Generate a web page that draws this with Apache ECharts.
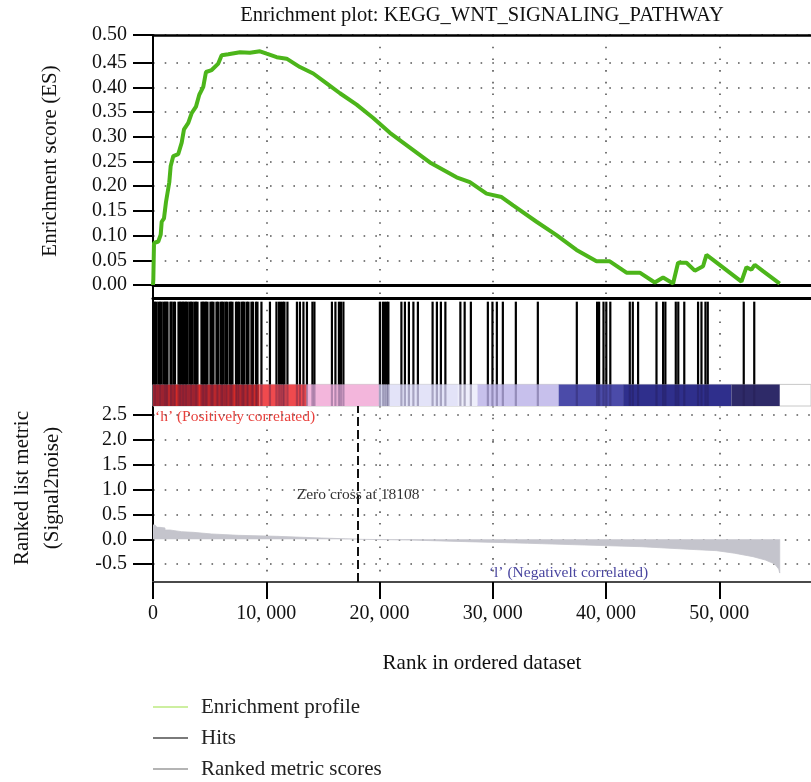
<!DOCTYPE html>
<html>
<head>
<meta charset="utf-8">
<script src="https://cdn.jsdelivr.net/npm/echarts@6.0.0/dist/echarts.min.js"></script>
<style>
  html, body { margin: 0; padding: 0; background: #ffffff; }
  #chart { width: 811px; height: 782px; }
</style>
</head>
<body>
<div id="chart"></div>
<script>
// ---- data -------------------------------------------------------------
const xMax = 58100;
const xTicks = [0, 10000, 20000, 30000, 40000, 50000];

// running enrichment score along the ranked list
const esRank = [0, 30, 88, 468, 680, 768, 971, 1147, 1439, 1562, 1792, 2233, 2533, 2736, 3116,
  3416, 3795, 4086, 4439, 4678, 5181, 5763, 6063, 6646, 7679, 8561, 9444, 10035, 10918, 11800,
  12974, 14148, 15331, 16505, 17979, 19444, 20918, 22680, 24448, 26804, 27978, 29452, 30776,
  31800, 33865, 35630, 37395, 39160, 40335, 41809, 42982, 44306, 45038, 45922, 46363, 47105,
  47837, 48568, 48870, 49454, 51958, 52399, 52841, 53133, 53865, 55339];
const esValue = [0, 0.012, 0.085, 0.088, 0.102, 0.128, 0.135, 0.168, 0.208, 0.241, 0.261, 0.265,
  0.288, 0.315, 0.328, 0.348, 0.361, 0.385, 0.401, 0.431, 0.435, 0.448, 0.465, 0.467, 0.471,
  0.470, 0.473, 0.468, 0.461, 0.458, 0.441, 0.428, 0.408, 0.388, 0.365, 0.338, 0.308, 0.278,
  0.248, 0.218, 0.208, 0.185, 0.178, 0.161, 0.128, 0.101, 0.071, 0.048, 0.048, 0.025, 0.025,
  0.005, 0.015, 0.003, 0.045, 0.045, 0.029, 0.038, 0.061, 0.051, 0.007, 0.036, 0.031, 0.041,
  0.028, 0.003];
const esTicks = [0, 0.05, 0.10, 0.15, 0.20, 0.25, 0.30, 0.35, 0.40, 0.45];
const esTop = 0.5059;
const esBottom = -0.0263;

// ranks of the gene-set members (hits)
const hitRanks = [44, 177, 309, 485, 618, 750, 927, 1059, 1192, 1280, 1545, 1633, 1809, 1942,
  2251, 2383, 2515, 2648, 2780, 2913, 3045, 3221, 3354, 3486, 3663, 3795, 3928, 4281, 4413,
  4545, 4678, 4810, 5075, 5207, 5340, 5605, 5737, 5958, 6090, 6222, 6399, 6531, 6752, 6884,
  7017, 7326, 7458, 7590, 7811, 7943, 8076, 8296, 8429, 8694, 8826, 9091, 9223, 9576,
  10326, 10900, 11121, 11297, 11473, 11606, 11871, 12709, 12974, 13283, 13592, 14077, 14254,
  15799, 16107, 16416, 16593, 16813, 20035, 20300, 20476, 20653, 20785, 21933, 22242, 22595,
  22992, 23389, 24687, 25066, 25419, 25816, 27140, 27519, 28067, 29567, 29973, 30361, 30891,
  32038, 33980, 37422, 39214, 39391, 39779, 40026, 40379, 42100, 42365, 42833, 44457, 45039,
  45242, 46160, 46381, 46910, 48128, 48428, 48781, 48984, 52162, 53089];

// colour strip of the ranked list (start rank, end rank, colour)
const barStart = [0, 9418, 13566, 19947, 26919, 28649, 35816, 41509, 51076];
const barEnd = [9418, 13566, 19947, 26919, 28649, 35816, 41509, 51076, 55339];
const barColor = ['#dc2c27', '#ef4a4e', '#f3b6dc', '#e3e3f8', '#eeeefb', '#c7c0ec', '#4b4ba9',
  '#2f2f8c', '#2e2a68'];

// ranked list metric (Signal2noise)
const metricRankPos = [0, 177, 353, 618, 1059, 1500, 2533, 3557, 5181, 7529, 10918, 14890, 17034, 18108];
const metricValuePos = [0.288, 0.26, 0.24, 0.228, 0.187, 0.153, 0.14, 0.107, 0.08, 0.06, 0.026, 0.01, 0.004, 0.004];
const metricRankNeg = [18108, 18200, 22568, 27590, 33072, 38093, 43115, 47220, 49752, 51332,
  52983, 54068, 54898, 55250, 55339, 55339];
const metricValueNeg = [0, -0.004, -0.014, -0.047, -0.08, -0.115, -0.149, -0.2, -0.229, -0.28,
  -0.35, -0.417, -0.497, -0.6, -0.68, 0];
const metricTicks = [-0.5, 0, 0.5, 1.0, 1.5, 2.0, 2.5];
const metricTop = 2.684;
const metricBottom = -0.86;

const zeroCross = 18108;

// ---- styling ----------------------------------------------------------
const FONT = '"Liberation Serif", "Times New Roman", serif';
const dotted = { type: [1.6, 10.1], width: 1.6, color: '#555555' };
const TICK = '#000000';

const chart = echarts.init(document.getElementById('chart'), null, { renderer: 'canvas' });

const xBase = {
  type: 'value', min: 0, max: xMax,
  axisLabel: { show: false, customValues: xTicks },
  axisTick: { show: false, customValues: xTicks },
  splitLine: { show: false }
};

const option = {
  animation: false,
  backgroundColor: '#ffffff',
  grid: [
    { left: 153, right: 0, top: 35, height: 263 },   // enrichment score
    { left: 153, right: 0, top: 298, height: 108 },  // hits + colour strip
    { left: 153, right: 0, top: 406, height: 176 }   // ranked list metric
  ],
  xAxis: [
    Object.assign({}, xBase, {
      gridIndex: 0, position: 'bottom',
      axisLine: { show: true, onZero: true, lineStyle: { color: '#000', width: 3 } },
      splitLine: { show: true, lineStyle: dotted }
    }),
    Object.assign({}, xBase, {
      gridIndex: 0, position: 'top',
      axisLine: { show: true, onZero: false, lineStyle: { color: '#000', width: 2.5 } }
    }),
    Object.assign({}, xBase, {
      gridIndex: 1, position: 'top',
      axisLine: { show: true, onZero: false, lineStyle: { color: '#000', width: 3 } },
      splitLine: { show: true, lineStyle: dotted }
    }),
    Object.assign({}, xBase, {
      gridIndex: 2, position: 'bottom',
      axisLine: { show: true, onZero: false, lineStyle: { color: '#4a4a4a', width: 2 } },
      axisTick: { show: true, inside: false, customValues: xTicks, length: 17, lineStyle: { color: TICK, width: 2 } },
      axisLabel: {
        show: true, customValues: xTicks, margin: 22,
        fontFamily: FONT, fontSize: 20, color: '#111',
        formatter: v => (v === 0 ? '0' : (v / 1000) + ', 000')
      },
      splitLine: { show: true, lineStyle: dotted },
      name: 'Rank in ordered dataset', nameLocation: 'middle', nameGap: 71,
      nameTextStyle: { fontFamily: FONT, fontSize: 21, color: '#111' }
    })
  ],
  yAxis: [
    {
      gridIndex: 0, type: 'value', min: esBottom, max: esTop,
      axisLine: { show: true, onZero: false, lineStyle: { color: '#000', width: 2 } },
      axisTick: { show: true, inside: false, customValues: esTicks.concat([esTop]), length: 20, lineStyle: { color: TICK, width: 2 } },
      axisLabel: {
        customValues: esTicks.concat([esTop]), margin: 26,
        fontFamily: FONT, fontSize: 20, color: '#111',
        formatter: v => (v > 0.49 ? '0.50' : v.toFixed(2))
      },
      splitLine: { show: true, lineStyle: dotted }
    },
    {
      gridIndex: 1, type: 'value', min: 0, max: 1,
      axisLine: { show: true, onZero: false, lineStyle: { color: '#000', width: 2 } },
      axisTick: { show: false }, axisLabel: { show: false }, splitLine: { show: false }
    },
    {
      gridIndex: 2, type: 'value', min: metricBottom, max: metricTop,
      axisLine: { show: true, onZero: false, lineStyle: { color: '#000', width: 2 } },
      axisTick: { show: true, inside: false, customValues: metricTicks, length: 20, lineStyle: { color: TICK, width: 2 } },
      axisLabel: {
        customValues: metricTicks, margin: 26,
        fontFamily: FONT, fontSize: 20, color: '#111',
        formatter: v => v.toFixed(1)
      },
      splitLine: { show: true, lineStyle: dotted }
    }
  ],
  legend: {
    orient: 'vertical', left: 153, top: 695, padding: 0,
    icon: 'rect', itemWidth: 35, itemHeight: 2, itemGap: 7,
    selectedMode: false,
    itemStyle: { borderWidth: 0 },
    textStyle: { fontFamily: FONT, fontSize: 21, color: '#222', lineHeight: 24, padding: [0, 0, 0, 8] },
    data: [
      { name: 'Enrichment profile', itemStyle: { color: '#cdefa0' } },
      { name: 'Hits', itemStyle: { color: '#7a7a7a' } },
      { name: 'Ranked metric scores', itemStyle: { color: '#b4b4b4' } }
    ]
  },
  graphic: [
    { type: 'text', x: 482, y: 16, style: { text: 'Enrichment plot: KEGG_WNT_SIGNALING_PATHWAY',
        font: '20.5px ' + FONT, fill: '#111', align: 'center', verticalAlign: 'middle' } },
    { type: 'text', x: 50.5, y: 161, rotation: Math.PI / 2, style: { text: 'Enrichment score (ES)',
        font: '21px ' + FONT, fill: '#111', align: 'center', verticalAlign: 'middle' } },
    { type: 'text', x: 37, y: 488, rotation: Math.PI / 2, style: { text: 'Ranked list metric\n(Signal2noise)',
        font: '21px ' + FONT, fill: '#111', align: 'center', verticalAlign: 'middle', lineHeight: 30 } },
    { type: 'text', x: 155, y: 417, style: { text: '\u2018h\u2019 (Positively correlated)',
        font: '15.5px ' + FONT, fill: '#e8403c', align: 'left', verticalAlign: 'middle' } },
    { type: 'text', x: 568.5, y: 573, style: { text: '\u2018l\u2019 (Negativelt correlated)',
        font: '15.5px ' + FONT, fill: '#4a46a0', align: 'center', verticalAlign: 'middle' } }
  ],
  series: [
    {
      name: 'Enrichment profile', type: 'line', xAxisIndex: 0, yAxisIndex: 0,
      data: esRank.map((r, i) => [r, esValue[i]]),
      showSymbol: false, symbol: 'none', silent: true, z: 5,
      lineStyle: { color: '#4cb51a', width: 4 }, itemStyle: { color: '#4cb51a' }
    },
    {
      type: 'custom', xAxisIndex: 2, yAxisIndex: 1, silent: true, z: 1,
      data: [[0, xMax]],
      encode: { x: [0, 1] },
      renderItem: (params, api) => {
        const a = api.coord([api.value(0), 0.2]);
        const b = api.coord([api.value(1), 0]);
        return { type: 'rect', shape: { x: a[0], y: a[1], width: b[0] - a[0], height: b[1] - a[1] },
          style: { fill: 'none', stroke: '#c8c8c8', lineWidth: 1 } };
      }
    },
    {
      type: 'custom', xAxisIndex: 2, yAxisIndex: 1, silent: true, z: 2,
      data: barStart.map((s, i) => [s, barEnd[i], i]),
      encode: { x: [0, 1] },
      renderItem: (params, api) => {
        const a = api.coord([api.value(0), 0.2]);
        const b = api.coord([api.value(1), 0]);
        return { type: 'rect', shape: { x: a[0], y: a[1], width: b[0] - a[0], height: b[1] - a[1] },
          style: { fill: barColor[api.value(2)] } };
      }
    },
    {
      name: 'Hits', type: 'custom', xAxisIndex: 2, yAxisIndex: 1, silent: true, z: 3,
      itemStyle: { color: '#000' },
      data: hitRanks.map(r => [r]),
      encode: { x: 0 },
      renderItem: (params, api) => {
        const top = api.coord([api.value(0), 0.966]);
        const mid = api.coord([api.value(0), 0.2]);
        const bot = api.coord([api.value(0), 0]);
        const w = 2.2;
        return {
          type: 'group',
          children: [
            { type: 'rect', shape: { x: top[0] - w / 2, y: top[1], width: w, height: mid[1] - top[1] },
              style: { fill: '#000' } },
            { type: 'rect', shape: { x: top[0] - w / 2, y: mid[1], width: w, height: bot[1] - mid[1] },
              style: { fill: 'rgba(30,20,70,0.3)' } }
          ]
        };
      }
    },
    {
      name: 'Ranked metric scores', type: 'line', xAxisIndex: 3, yAxisIndex: 2,
      data: metricRankPos.map((r, i) => [r, metricValuePos[i]]),
      step: 'end', showSymbol: false, symbol: 'none', silent: true, z: 2,
      lineStyle: { color: '#c4c4cc', width: 0.8 }, itemStyle: { color: '#c4c4cc' },
      areaStyle: { color: '#c4c4cc', opacity: 1, origin: 0 },
      markLine: {
        silent: true, symbol: 'none', label: { show: false },
        lineStyle: { color: '#111', width: 2, type: [9, 4] },
        data: [{ xAxis: zeroCross }]
      },
      markPoint: {
        silent: true, symbol: 'rect', symbolSize: 0,
        data: [{ coord: [zeroCross, 0.89] }],
        label: { show: true, position: 'inside', formatter: 'Zero cross at ' + zeroCross,
          fontFamily: FONT, fontSize: 15.5, color: '#333' }
      }
    },
    {
      name: 'Ranked metric scores', type: 'line', xAxisIndex: 3, yAxisIndex: 2,
      data: metricRankNeg.map((r, i) => [r, metricValueNeg[i]]),
      showSymbol: false, symbol: 'none', silent: true, z: 2,
      lineStyle: { color: '#c4c4cc', width: 0.8 }, itemStyle: { color: '#c4c4cc' },
      areaStyle: { color: '#c4c4cc', opacity: 1, origin: 0 }
    }
  ]
};

chart.setOption(option);
</script>
</body>
</html>
